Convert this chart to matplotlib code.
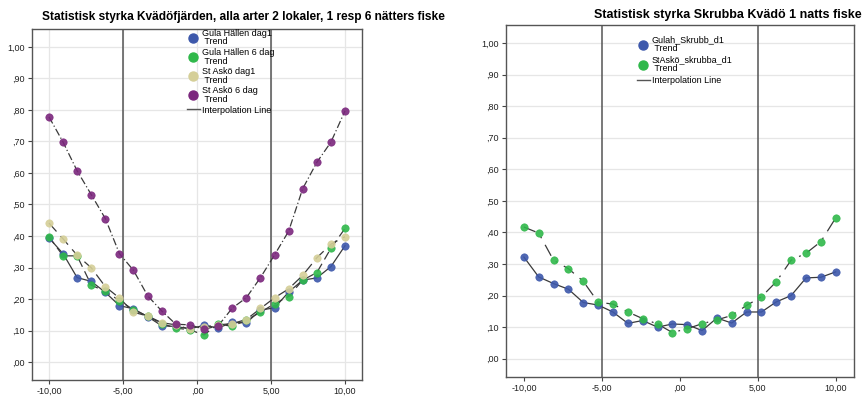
import matplotlib
matplotlib.use("Agg")
import matplotlib.pyplot as plt
from matplotlib.lines import Line2D

plt.rcParams['font.family'] = ['Liberation Sans', 'DejaVu Sans']

x_vals = [-10.00, -9.05, -8.10, -7.14, -6.19, -5.24, -4.29, -3.33, -2.38, -1.43, -0.48,
          0.48, 1.43, 2.38, 3.33, 4.29, 5.24, 6.19, 7.14, 8.10, 9.05, 10.00]

# Left panel series
gula_hallen_dag1 = [0.394, 0.344, 0.268, 0.256, 0.221, 0.179, 0.169, 0.144, 0.115, 0.113, 0.105,
                    0.117, 0.108, 0.126, 0.124, 0.165, 0.172, 0.222, 0.260, 0.267, 0.303, 0.369]
gula_hallen_6dag = [0.398, 0.337, 0.337, 0.244, 0.224, 0.195, 0.166, 0.145, 0.122, 0.108, 0.102,
                    0.086, 0.121, 0.113, 0.133, 0.158, 0.185, 0.208, 0.260, 0.284, 0.361, 0.424]
st_asko_dag1 = [0.441, 0.391, 0.339, 0.299, 0.239, 0.203, 0.158, 0.146, 0.125, 0.118, 0.104,
                0.111, 0.118, 0.122, 0.135, 0.170, 0.204, 0.232, 0.275, 0.331, 0.374, 0.398]
st_asko_6dag = [0.778, 0.698, 0.607, 0.531, 0.455, 0.344, 0.291, 0.210, 0.162, 0.120, 0.118,
                0.104, 0.115, 0.171, 0.204, 0.268, 0.340, 0.415, 0.550, 0.634, 0.698, 0.797]

# Right panel series
gulah_skrubb_d1 = [0.322, 0.259, 0.238, 0.220, 0.178, 0.170, 0.148, 0.112, 0.121, 0.100, 0.110,
                   0.108, 0.089, 0.129, 0.113, 0.148, 0.148, 0.180, 0.200, 0.256, 0.258, 0.275]
stasko_skrubba_d1 = [0.417, 0.398, 0.312, 0.285, 0.245, 0.179, 0.173, 0.148, 0.127, 0.110, 0.083,
                     0.095, 0.111, 0.123, 0.137, 0.169, 0.196, 0.244, 0.312, 0.334, 0.371, 0.446]

y_ticks = [0.0, 0.1, 0.2, 0.3, 0.4, 0.5, 0.6, 0.7, 0.8, 0.9, 1.0]
y_ticklabels = [",00", ",10", ",20", ",30", ",40", ",50", ",60", ",70", ",80", ",90", "1,00"]
x_ticks = [-10, -5, 0, 5, 10]
x_ticklabels = ["-10,00", "-5,00", ",00", "5,00", "10,00"]
ref_lines = [-5, 5]

title_left = "Statistisk styrka Kvädöfjärden, alla arter 2 lokaler, 1 resp 6 nätters fiske"
title_right = "Statistisk styrka Skrubba Kvädö 1 natts fiske"

BLUE = "#3d58ab"
GREEN = "#2fb84a"
BEIGE = "#d5cf98"
PURPLE = "#7b277d"
LINE = "#3a3a3a"

fig = plt.figure(figsize=(8.64, 3.96), dpi=100)
axL = fig.add_axes([0.037, 0.0404, 0.382, 0.8864])
axR = fig.add_axes([0.5856, 0.0487, 0.4024, 0.8882])


def style(ax, vgrid):
    ax.set_xlim(-11.15, 11.15)
    ax.set_ylim(-0.057, 1.057)
    ax.set_yticks(y_ticks)
    ax.set_yticklabels(y_ticklabels)
    ax.set_xticks(x_ticks)
    ax.set_xticklabels(x_ticklabels)
    ax.tick_params(labelsize=6.5, length=3, width=0.8, color="#444444", pad=2, labelcolor="#222222")
    ax.grid(axis='y', color="#e6e6e6", linewidth=0.9)
    if vgrid:
        ax.grid(axis='x', color="#e6e6e6", linewidth=0.9)
    ax.set_axisbelow(True)
    for s in ax.spines.values():
        s.set_color("#555555")
        s.set_linewidth(1.0)
    for r in ref_lines:
        ax.axvline(r, color="#555555", linewidth=1.1, zorder=1)


def series(ax, y, color, ls):
    ax.plot(x_vals, y, color=LINE, linewidth=0.9, linestyle=ls, zorder=3)
    ax.scatter(x_vals, y, s=28, color=color, edgecolors=color, linewidths=0.5, alpha=0.9, zorder=4)


style(axL, True)
series(axL, gula_hallen_dag1, BLUE, '-')
series(axL, gula_hallen_6dag, GREEN, (0, (7, 4)))
series(axL, st_asko_dag1, BEIGE, (0, (9, 5)))
series(axL, st_asko_6dag, PURPLE, (0, (6, 2, 1, 2)))

style(axR, False)
series(axR, gulah_skrubb_d1, BLUE, '-')
series(axR, stasko_skrubba_d1, GREEN, (0, (10, 6, 1.5, 6)))

fig.text(0.2815, 0.957, title_left, ha='center', va='center', fontsize=8.6, fontweight='bold')
fig.text(0.8426, 0.963, title_right, ha='center', va='center', fontsize=9.0, fontweight='bold')


def legend(ax, labels, colors, loc, spacing):
    handles = [Line2D([], [], linestyle='none', marker='o', markersize=6.5, color=c) for c in colors]
    labs = [l + "\n Trend" for l in labels]
    handles.append(Line2D([], [], color="#555555", linewidth=1))
    labs.append("Interpolation Line")
    leg = ax.legend(handles, labs, loc='upper left', bbox_to_anchor=loc, frameon=False,
                    fontsize=6.5, handlelength=1.5, handletextpad=0.2, labelspacing=spacing,
                    borderpad=0.1)
    for t in leg.get_texts():
        t.set_linespacing(0.9)
    return leg


legend(axL, ["Gula Hällen dag1", "Gula Hällen 6 dag", "St Askö dag1", "St Askö 6 dag"],
       [BLUE, GREEN, BEIGE, PURPLE], (0.452, 1.015), 0.2)
legend(axR, ["Gulah_Skrubb_d1", "StAskö_skrubba_d1"], [BLUE, GREEN], (0.36, 0.985), 0.3)

fig.savefig("out.png", dpi=100)
